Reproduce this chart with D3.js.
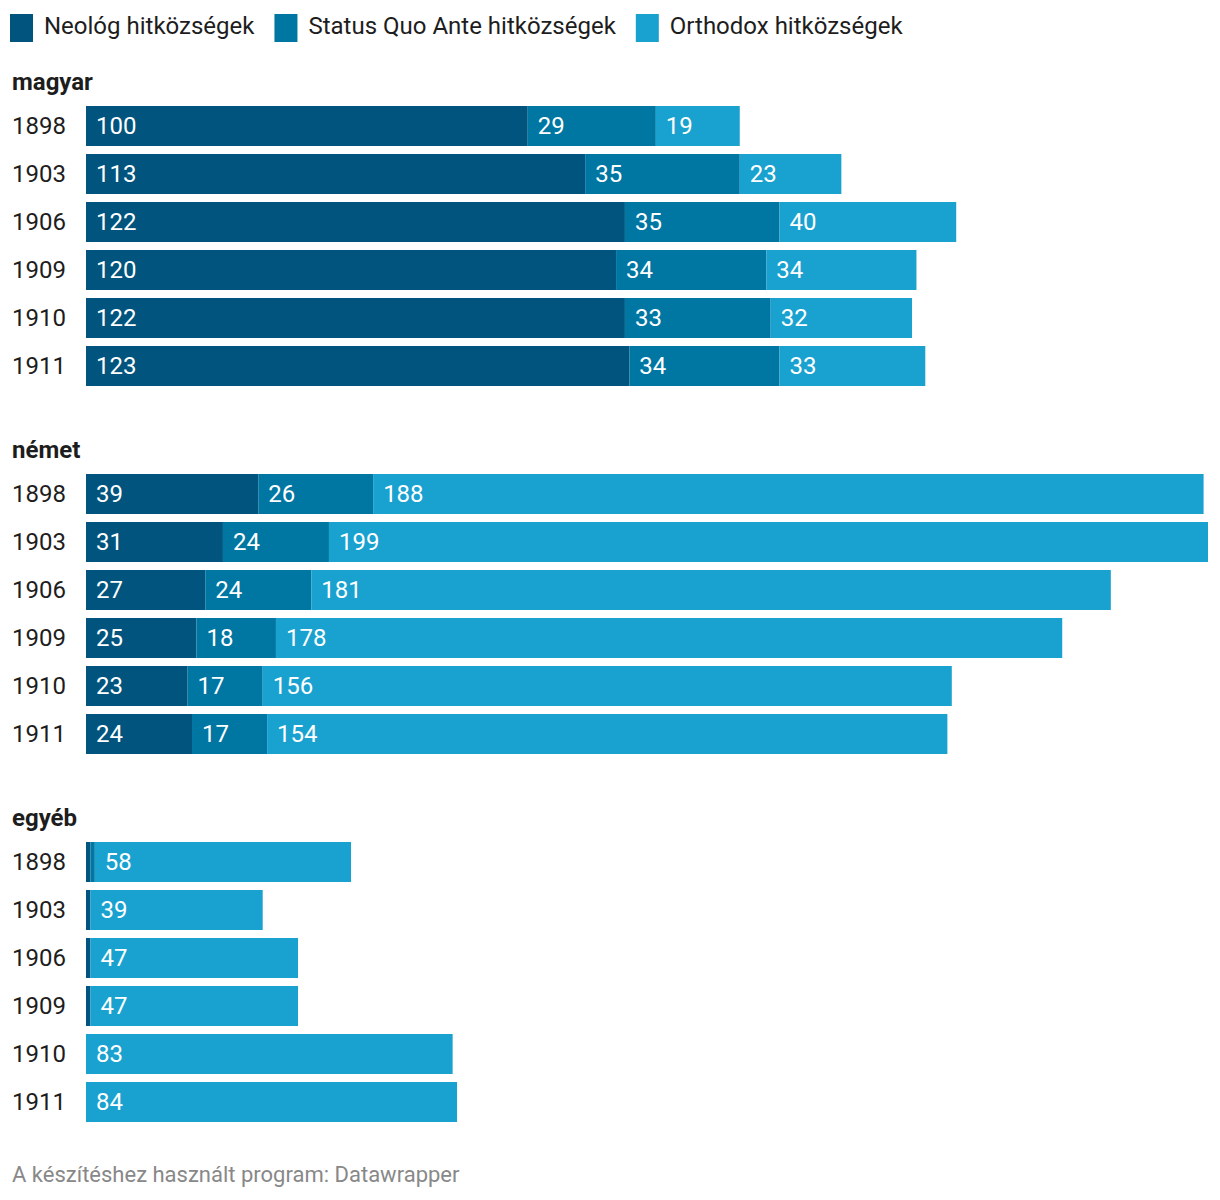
<!DOCTYPE html>
<html>
<head>
<meta charset="utf-8">
<script src="https://cdn.jsdelivr.net/npm/d3@7"></script>
<style>
  body { margin: 0; background: #fff; font-family: Roboto, "Noto Sans", sans-serif; }
  svg text { font-family: Roboto, "Noto Sans", sans-serif; }
</style>
</head>
<body>
<div id="chart"></div>
<script>
// Stacked bars by language group (magyar / német / egyéb)
const series = ['Neológ hitközségek', 'Status Quo Ante hitközségek', 'Orthodox hitközségek'];
const colors = ['#00547d', '#0076a3', '#19a2cf'];
const groups = ['magyar', 'német', 'egyéb'];
const years = ['1898', '1903', '1906', '1909', '1910', '1911'];

const neolog = {
  'magyar': [100, 113, 122, 120, 122, 123],
  'német':  [39, 31, 27, 25, 23, 24],
  'egyéb':  [1, 1, 1, 1, 0, 0]
};
const statusQuo = {
  'magyar': [29, 35, 35, 34, 33, 34],
  'német':  [26, 24, 24, 18, 17, 17],
  'egyéb':  [1, 0, 0, 0, 0, 0]
};
const orthodox = {
  'magyar': [19, 23, 40, 34, 32, 33],
  'német':  [188, 199, 181, 178, 156, 154],
  'egyéb':  [58, 39, 47, 47, 83, 84]
};

const width = 1220, height = 1200;
const svg = d3.select('#chart').append('svg')
  .attr('width', width).attr('height', height);

// legend
let lx = 10;
series.forEach((s, i) => {
  svg.append('rect').attr('x', lx).attr('y', 14).attr('width', 23).attr('height', 28)
    .attr('fill', colors[i]);
  const t = svg.append('text').attr('x', lx + 34).attr('y', 34)
    .attr('font-size', 24).attr('fill', '#1d1d1d').text(s);
  lx += 34 + t.node().getComputedTextLength() + 20;
});

const x = d3.scaleLinear().domain([0, 254]).range([86, 1208]);
const groupStep = 368;
// step 48, bar height 40
const yb = d3.scaleBand().domain(years).range([106, 106 + 48 * 6 - 8]).paddingInner(8 / 48).paddingOuter(0);

groups.forEach((gname, gi) => {
  const g = svg.append('g').attr('transform', `translate(0,${gi * groupStep})`);
  g.append('text').attr('x', 12).attr('y', 90).attr('font-size', 24)
    .attr('font-weight', 'bold').attr('fill', '#1d1d1d').text(gname);

  const rows = years.map((yr, i) => ({ year: yr, vals: [neolog[gname][i], statusQuo[gname][i], orthodox[gname][i]] }));
  rows.forEach(r => {
    const yy = yb(r.year), h = yb.bandwidth();
    g.append('text').attr('x', 12).attr('y', yy + h / 2 + 8).attr('font-size', 24)
      .attr('fill', '#1d1d1d').text(r.year);
    let acc = 0;
    r.vals.forEach((v, si) => {
      if (v <= 0) return;
      const x0 = x(acc), x1 = x(acc + v);
      g.append('rect').attr('x', x0).attr('y', yy).attr('width', x1 - x0).attr('height', h)
        .attr('fill', colors[si]);
      if (x1 - x0 > 30) {
        g.append('text').attr('x', x0 + 10).attr('y', yy + h / 2 + 8).attr('font-size', 24)
          .attr('fill', '#fff').text(v);
      }
      acc += v;
    });
  });
});

svg.append('text').attr('x', 12).attr('y', 1182).attr('font-size', 22)
  .attr('fill', '#888').text('A készítéshez használt program: Datawrapper');
</script>
</body>
</html>
